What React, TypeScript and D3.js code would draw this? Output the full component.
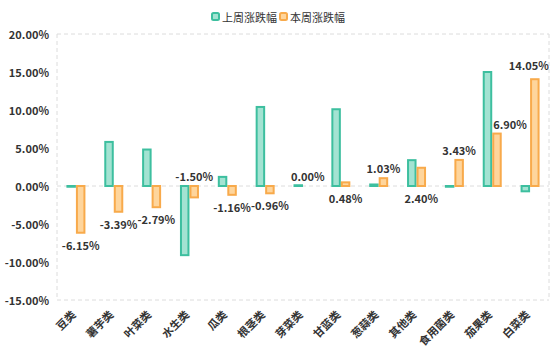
import React from "react";
import * as d3 from "d3";

const categories = ["豆类", "薯芋类", "叶菜类", "水生类", "瓜类", "根茎类", "芽菜类", "甘蓝类", "葱蒜类", "其他类", "食用菌类", "茄果类", "白菜类"];
const lastWeek = [-0.1, 5.8, 4.8, -9.1, 1.2, 10.4, 0.1, 10.1, 0.2, 3.4, -0.1, 15.0, -0.7];
const thisWeek = [-6.15, -3.39, -2.79, -1.5, -1.16, -0.96, 0.0, 0.48, 1.03, 2.4, 3.43, 6.9, 14.05];
const labelSide = ["bottom", "bottom", "bottom", "top", "bottom", "bottom", "top", "bottom", "top", "bottom", "top", "top", "top"];
const labelShift = [0, 0, 0, 0, 0, 0, 0, 0, 0, 0, 0, 13, -6];
const yTicks = [20, 15, 10, 5, 0, -5, -10, -15];
const seriesNames = ["上周涨跌幅", "本周涨跌幅"];

const W = 554, H = 357;
const M = { left: 57, right: 549, top: 34, bottom: 300 };
const GREEN = "#3dbf9f", GREEN_F = "#a3e3d2";
const ORANGE = "#f8aa4b", ORANGE_F = "#fed59c";
const FONT = "'Noto Sans CJK SC', 'Noto Sans', sans-serif";

export default function App() {
  const x = d3.scaleBand<string>().domain(categories).range([M.left, M.right]);
  const y = d3.scaleLinear().domain([-15, 20]).range([M.bottom, M.top]);
  const bw = 7.5;
  const fmt = (v: number) => v.toFixed(2) + "%";
  const grid = "#dcdcdc";
  return (
    <svg width={W} height={H} style={{ position: "absolute", left: 0, top: 0 }} fontFamily={FONT}>
      <line x1={M.left} x2={M.right} y1={y(20)} y2={y(20)} stroke={grid} strokeDasharray="4,3" />
      <line x1={M.left} x2={M.right} y1={y(-15)} y2={y(-15)} stroke={grid} strokeDasharray="4,3" />
      <line x1={M.left} x2={M.left} y1={y(20)} y2={y(-15)} stroke={grid} strokeDasharray="4,3" />
      <line x1={M.right} x2={M.right} y1={y(20)} y2={y(-15)} stroke={grid} strokeDasharray="4,3" />
      <line x1={M.left} x2={M.right} y1={y(0)} y2={y(0)} stroke={grid} strokeDasharray="4,3" />
      {yTicks.map((t) => (
        <text key={t} x={49} y={y(t)} textAnchor="end" dominantBaseline="central" fontSize={11} fontWeight="bold" fill="#333">
          {t.toFixed(2) + "%"}
        </text>
      ))}
      {categories.map((c, i) => {
        const cx = (x(c) as number) + x.bandwidth() / 2;
        const g = lastWeek[i], o = thisWeek[i];
        const oy = Math.min(y(o), y(0));
        const gy = Math.min(y(g), y(0));
        const ocx = cx + 1 + bw / 2;
        let ly: number;
        if (labelSide[i] === "top") ly = Math.min(y(o), y(0)) - (o > 10 ? 14 : 10);
        else ly = Math.max(y(o), y(0)) + 12;
        return (
          <g key={c}>
            <rect x={cx - 1 - bw} y={gy} width={bw} height={Math.abs(y(g) - y(0))} fill={GREEN_F} stroke={GREEN} strokeWidth={2} />
            <rect x={cx + 1} y={oy} width={bw} height={Math.abs(y(o) - y(0))} fill={ORANGE_F} stroke={ORANGE} strokeWidth={2} />
            <text x={ocx + labelShift[i]} y={ly} textAnchor="middle" dominantBaseline="central" fontSize={11} fontWeight="bold" fill="#333">
              {fmt(o)}
            </text>
            <text transform={`translate(${cx - 3},${312}) rotate(-45)`} textAnchor="end" dominantBaseline="central" fontSize={11} fontWeight="bold" fill="#333">
              {c}
            </text>
          </g>
        );
      })}
      <g>
        <rect x={212} y={13} width={7} height={7} rx={1.5} fill={GREEN_F} stroke={GREEN} strokeWidth={2} />
        <text x={222} y={17} dominantBaseline="central" fontSize={11} fill="#333">{seriesNames[0]}</text>
        <rect x={280} y={13} width={7} height={7} rx={1.5} fill={ORANGE_F} stroke={ORANGE} strokeWidth={2} />
        <text x={290} y={17} dominantBaseline="central" fontSize={11} fill="#333">{seriesNames[1]}</text>
      </g>
    </svg>
  );
}
